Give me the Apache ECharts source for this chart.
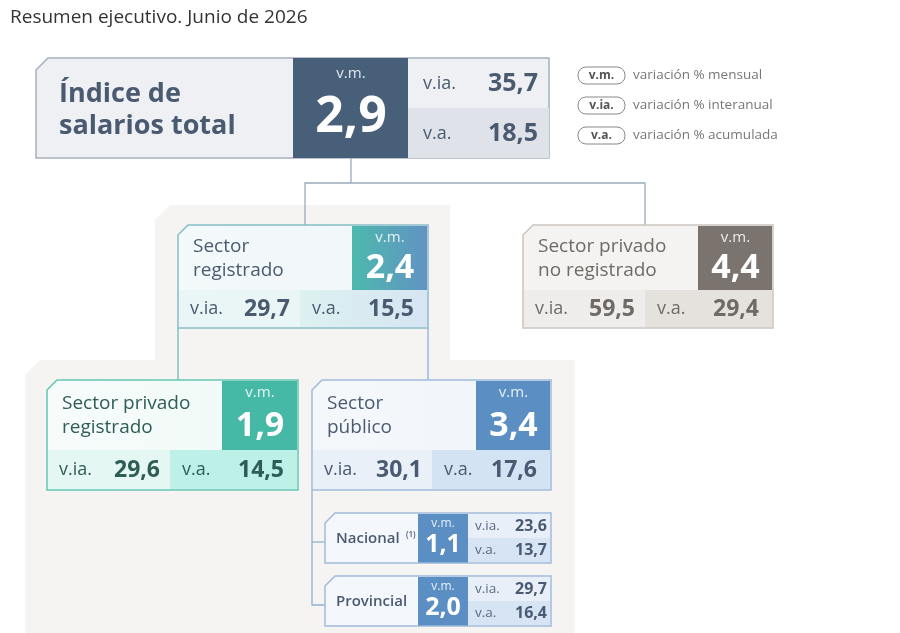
<!DOCTYPE html>
<html><head><meta charset="utf-8">
<script src="https://cdn.jsdelivr.net/npm/echarts@6/dist/echarts.min.js"></script>
<style>html,body{margin:0;padding:0;background:#fff}#c{width:900px;height:633px}</style>
</head><body><div id="c"></div>
<script>
const title = 'Resumen ejecutivo. Junio de 2026';
const nodeNames = ['Índice de\nsalarios total','Sector\nregistrado','Sector privado\nno registrado','Sector privado\nregistrado','Sector\npúblico','Nacional','Provincial'];
const vmValues  = ['2,9','2,4','4,4','1,9','3,4','1,1','2,0'];
const viaValues = ['35,7','29,7','59,5','29,6','30,1','23,6','29,7'];
const vaValues  = ['18,5','15,5','29,4','14,5','17,6','13,7','16,4'];
const legendAbbr = ['v.m.','v.ia.','v.a.'];
const legendText = ['variación % mensual','variación % interanual','variación % acumulada'];

const F = '"Open Sans", Lato, sans-serif';
const g = [];
function rect(x,y,w,h,fill,extra){g.push(Object.assign({type:'rect',shape:{x,y,width:w,height:h},style:{fill}},extra||{}));}
function txt(x,y,t,size,color,weight,align,va,extra){g.push({type:'text',x,y,style:Object.assign({text:t,fontSize:size,fill:color,fontWeight:weight||'normal',fontFamily:F,align:align||'left',verticalAlign:va||'middle',lineHeight:size*1.15},extra||{})});}
function cutPoly(x,y,w,h,c,style){g.push({type:'polygon',shape:{points:[[x+c,y],[x+w,y],[x+w,y+h],[x,y+h],[x,y+c]]},style});}
function line(pts,color){g.push({type:'polyline',shape:{points:pts},style:{stroke:color,lineWidth:1.3,fill:null}});}
function grad(a,b,dir){return new echarts.graphic.LinearGradient(0,0,dir==='v'?0:1,dir==='v'?1:0,[{offset:0,color:a},{offset:1,color:b}]);}

g.push({type:'polygon',shape:{points:[[170,205],[450,205],[450,360],[575,360],[575,633],[25,633],[25,375],[40,360],[155,360],[155,220]]},style:{fill:'#f5f4f3'}});

line([[351,158],[351,183]],'#9aabbd');
line([[305,225],[305,183],[645,183],[645,225]],'#9aabbd');
line([[178,328],[178,380]],'#6fbcb5');
line([[428,328],[428,380]],'#8fb0d3');
line([[312,490],[312,605],[325,605]],'#8fb0d3');
line([[312,542],[325,542]],'#8fb0d3');

txt(10,18,title,19,'#333',400);

cutPoly(36,58,513,100,12,{fill:'#eef0f4',stroke:'#a7b0bd',lineWidth:1.5});
rect(408,108,141,50,'#dfe3e9');
rect(293,58,115,100,'#485f7a');
txt(59,110,nodeNames[0],27,'#4a5a70','bold','left','middle',{lineHeight:32});
txt(351,74,'v.m.',15,'#dfe6ee',400,'center');
txt(351,118,vmValues[0],50,'#fff','bold','center');
txt(423,84,'v.ia.',18,'#4a5a70');
txt(538,84,viaValues[0],25,'#4a5a70','bold','right');
txt(423,134,'v.a.',18,'#4a5a70');
txt(538,134,vaValues[0],25,'#4a5a70','bold','right');

for(let i=0;i<3;i++){
  const y=75+i*30;
  g.push({type:'rect',shape:{x:578,y:y-8,width:47,height:17,r:8},style:{fill:'#fff',stroke:'#888',lineWidth:1}});
  txt(601.5,y+0.5,legendAbbr[i],12,'#555','bold','center');
  txt(633,y,legendText[i],13.5,'#777');
}

function medNode(x,y,w,h,vmX,split,topH,i,c){
  cutPoly(x,y,w,h,10,{fill:grad(c.top1,c.top2,'h'),stroke:c.border,lineWidth:1.5});
  rect(x+1,y+topH,split-x-1,h-topH-1,c.bl);
  rect(split,y+topH,x+w-split-1,h-topH-1,c.br);
  rect(vmX,y+1,x+w-vmX-1,topH-1,c.vm);
  txt(x+15,y+topH/2+1,nodeNames[i],19,c.text,500,'left','middle',{lineHeight:24});
  const cx=(vmX+x+w)/2;
  txt(cx,y+13,'v.m.',15,'rgba(255,255,255,0.85)',400,'center');
  txt(cx,y+topH/2+11,vmValues[i],34,'#fff','bold','center');
  const by=y+topH+(h-topH)/2;
  txt(x+12,by,'v.ia.',18,c.text);
  txt(split-10,by,viaValues[i],23,c.text,'bold','right');
  txt(split+12,by,'v.a.',18,c.text);
  txt(x+w-14,by,vaValues[i],23,c.text,'bold','right');
}
medNode(178,225,250,103,352,300,65,1,{top1:'#f3fafa',top2:'#f1f5fa',border:'#86bcc9',bl:'#e9f6f5',br:grad('#dcf1f0','#d6e5f2','h'),vm:grad('#4cb9ae','#6293c2','h'),text:'#4a5a70'});
medNode(523,225,250,103,698,645,65,2,{top1:'#f4f3f1',top2:'#f4f3f1',border:'#cbc5bf',bl:'#efedeb',br:'#e5e1dd',vm:'#7b746e',text:'#6f6a66'});
medNode(47,380,251,110,222,170,70,3,{top1:'#f7fcfb',top2:'#effaf7',border:'#64c6b5',bl:'#e5f7f3',br:'#bdf0e7',vm:'#46b9a6',text:'#2e5d55'});
medNode(312,380,239,110,476,432,70,4,{top1:'#f5f8fb',top2:'#f0f5fa',border:'#a0badb',bl:'#e9f0f8',br:'#d4e3f3',vm:'#5b8fc3',text:'#4a5a72'});

function smallNode(y,i,label){
  const x=325,w=226,h=50;
  cutPoly(x,y,w,h,10,{fill:'#f4f7fb',stroke:'#a0badb',lineWidth:1.5});
  rect(468,y+1,w-144,24,'#e8eff8');
  rect(468,y+25,w-144,24,'#d6e4f3');
  rect(418,y+1,50,h-1.5,'#5b8fc3');
  txt(336,y+26,label,15,'#4a5a72',600);
  txt(443,y+11,'v.m.',12,'rgba(255,255,255,0.85)',400,'center');
  txt(443,y+32,vmValues[i],25,'#fff','bold','center');
  txt(475,y+13,'v.ia.',13.5,'#5a6a82');
  txt(547,y+13,viaValues[i],16,'#4a5a72','bold','right');
  txt(475,y+37,'v.a.',13.5,'#5a6a82');
  txt(547,y+37,vaValues[i],16,'#4a5a72','bold','right');
}
smallNode(513,5,nodeNames[5]);
txt(406,535,'(1)',8,'#4a5a72',600);
smallNode(576,6,nodeNames[6]);

const chart=echarts.init(document.getElementById('c'));
chart.setOption({animation:false,graphic:{elements:g}});
</script></body></html>
